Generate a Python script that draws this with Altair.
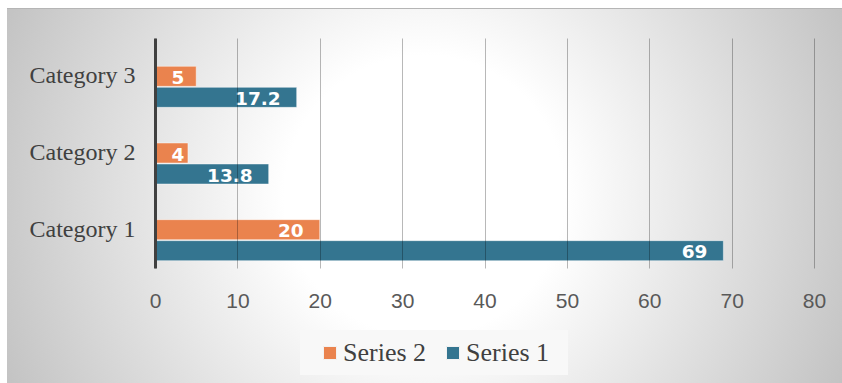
import altair as alt
import pandas as pd

# ---- data ----
categories = ["Category 1", "Category 2", "Category 3"]
series_names = ["Series 2", "Series 1"]
series1_values = [69, 13.8, 17.2]
series2_values = [20, 4, 5]
x_ticks = [0, 10, 20, 30, 40, 50, 60, 70, 80]
series_colors = ["#EA834E", "#347590"]

rows = []
for c, v in zip(categories, series1_values):
    rows.append({"category": c, "series": "Series 1", "value": v})
for c, v in zip(categories, series2_values):
    rows.append({"category": c, "series": "Series 2", "value": v})
df = pd.DataFrame(rows)

W, H = 659, 230
PAD = {"left": 155, "top": 38, "right": 28, "bottom": 115}


def x_enc(field):
    return alt.X(
        f"{field}:Q",
        scale=alt.Scale(domain=[0, 80], nice=False, zero=True),
        axis=alt.Axis(
            title=None, values=x_ticks, format="d", ticks=False, domain=False,
            grid=True, gridColor="#000000", gridOpacity=0.28, gridWidth=1,
            labelFont="Liberation Sans", labelFontSize=21, labelColor="#595959",
            labelPadding=22, labelFlush=False, labelOverlap=False, zindex=1,
        ),
    )


y_enc = alt.Y(
    "category:N",
    sort=categories[::-1],
    scale=alt.Scale(paddingInner=0, paddingOuter=0),
    axis=alt.Axis(
        title=None, ticks=False, grid=False, domain=True,
        domainColor="#404040", domainWidth=3,
        labelFont="Liberation Serif", labelFontSize=24, labelColor="#404040",
        labelPadding=20, zindex=1,
    ),
)

color_enc = alt.Color(
    "series:N",
    scale=alt.Scale(domain=series_names, range=series_colors),
    legend=alt.Legend(
        title=None, orient="none", legendX=162, legendY=302,
        direction="horizontal", columns=2, symbolType="square", symbolSize=169,
        symbolStrokeWidth=1, symbolStrokeColor="#f2f2f2", symbolOpacity=1,
        labelFont="Liberation Serif", labelFontSize=26, labelColor="#404040",
        labelOffset=0, columnPadding=13, padding=0,
    ),
)

gradient = {
    "gradient": "radial",
    "stops": [
        {"offset": 0, "color": "#ffffff"},
        {"offset": 0.3, "color": "#ffffff"},
        {"offset": 1, "color": "#c1c1c1"},
    ],
    "x1": 0.5, "y1": 0.5, "r1": 0,
    "x2": 0.5, "y2": 0.5, "r2": 0.56,
}

one = alt.Data(values=[{"a": 1}])

bg = alt.Chart(one).mark_rect(fill=gradient).encode(
    x=alt.value(-148), x2=alt.value(687), y=alt.value(-30), y2=alt.value(345)
)
top_line = alt.Chart(one).mark_rule(color="#b5b5b5", strokeWidth=1).encode(
    x=alt.value(-148), x2=alt.value(687), y=alt.value(-29.5)
)
legend_box = alt.Chart(one).mark_rect(fill="#f8f8f8").encode(
    x=alt.value(145), x2=alt.value(413), y=alt.value(292), y2=alt.value(337)
)

bar_style = dict(size=20, stroke="#ffffff", strokeOpacity=0.45, strokeWidth=1)

bars2 = alt.Chart(df).transform_filter(alt.datum.series == "Series 2").mark_bar(
    **bar_style
).encode(x=x_enc("value"), y=y_enc, color=color_enc)

bars1 = alt.Chart(df).transform_filter(alt.datum.series == "Series 1").mark_bar(
    yOffset=21, **bar_style
).encode(x=x_enc("value"), y=y_enc, color=color_enc)

text_style = dict(align="right", baseline="middle", dx=-16, font="DejaVu Sans",
                  fontWeight="bold", fontSize=18.5, color="#ffffff")

text2 = alt.Chart(df).transform_filter(alt.datum.series == "Series 2").transform_calculate(
    lx="max(datum.value, 5.5)", label="toString(datum.value)"
).mark_text(dy=1.5, **text_style).encode(x=x_enc("lx"), y=y_enc, text="label:N")

text1 = alt.Chart(df).transform_filter(alt.datum.series == "Series 1").transform_calculate(
    lx="max(datum.value, 5.5)", label="toString(datum.value)"
).mark_text(dy=22.5, **text_style).encode(x=x_enc("lx"), y=y_enc, text="label:N")

chart = alt.layer(bg, top_line, legend_box, bars2, bars1, text2, text1).properties(
    width=W, height=H,
    autosize=alt.AutoSizeParams(type="none"),
    padding=PAD,
    background="#ffffff",
).configure_view(strokeWidth=0)

chart.save("out.html", embed_options={"renderer": "svg", "actions": False})
